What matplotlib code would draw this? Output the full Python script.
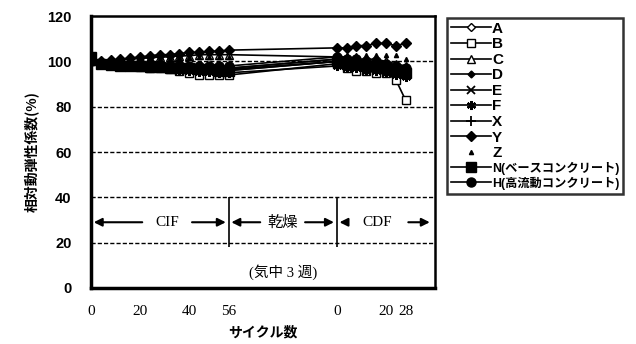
import numpy as np
import matplotlib
matplotlib.use('Agg')
from matplotlib import pyplot as plt

# measurement cycles
cif_cycles = [0, 4, 8, 12, 16, 20, 24, 28, 32, 36, 40, 44, 48, 52, 56]
cdf_cycles = [0, 4, 8, 12, 16, 20, 24, 28]

labels = ['A', 'B', 'C', 'D', 'E', 'F', 'X', 'Y', 'Z',
          'N(ベースコンクリート)', 'H(高流動コンクリート)']

# relative dynamic modulus (%) during CIF
cif_A = [100, 99.5, 99, 99, 98.5, 98.5, 98, 98, 98, 97.5, 97.5, 97, 97, 97, 97]
cif_B = [100, 99, 98.5, 98, 98, 97.5, 97, 97, 96.5, 96, 95, 94, 94, 94, 94]
cif_C = [100, 100, 100.5, 101, 101, 101.5, 101.5, 102, 102, 102.5, 102.5, 103, 103, 103, 103]
cif_D = [100, 99, 99, 98.5, 98.5, 98, 98, 98, 97.5, 97.5, 97, 97, 97, 96.5, 96.5]
cif_E = [100, 99, 98.5, 98.5, 98, 98, 97.5, 97.5, 97, 97, 96.5, 96, 96, 96, 96]
cif_F = [101, 99, 98.5, 98, 98, 97.5, 97, 97, 96.5, 96, 96, 95.5, 95.5, 95, 95]
cif_X = [100, 99.5, 99, 99, 99, 98.5, 98.5, 98, 98, 98, 97.5, 97.5, 97, 97, 97]
cif_Y = [100, 100, 100.5, 101, 101.5, 102, 102.5, 103, 103, 103.5, 104, 104, 104.5, 104.5, 105]
cif_Z = [100, 100, 100.5, 100.5, 101, 101, 101.5, 101.5, 101.5, 102, 102, 102, 102, 102, 102]
cif_N = [102, 99, 98.5, 98, 98, 98, 97.5, 97.5, 97, 97, 97, 96.5, 96.5, 96, 96]
cif_H = [100, 99.5, 99.5, 99, 99, 99, 99, 98.5, 98.5, 98.5, 98, 98, 98, 98, 98]

# relative dynamic modulus (%) during CDF
cdf_A = [101, 100, 99, 99, 98, 98, 97, 97]
cdf_B = [99, 97, 96, 96, 95, 95, 92, 83]
cdf_C = [102, 102, 101, 101, 101, 100, 99, 98]
cdf_D = [100, 99, 99, 98, 98, 97, 96, 96]
cdf_E = [100, 98, 98, 97, 97, 96, 95, 94]
cdf_F = [98, 97, 97, 96, 96, 95, 94, 93]
cdf_X = [101, 99, 99, 98, 98, 97, 96, 95]
cdf_Y = [106, 106, 107, 107, 108, 108, 107, 108]
cdf_Z = [103, 103, 103, 103, 103, 103, 103, 101]
cdf_N = [100, 99, 99, 98, 98, 97, 96, 95]
cdf_H = [102, 101, 101, 100, 100, 99, 98, 97]

cif_all = [cif_A, cif_B, cif_C, cif_D, cif_E, cif_F, cif_X, cif_Y, cif_Z, cif_N, cif_H]
cdf_all = [cdf_A, cdf_B, cdf_C, cdf_D, cdf_E, cdf_F, cdf_X, cdf_Y, cdf_Z, cdf_N, cdf_H]

CDF_OFFSET = 100  # axis position where CDF cycle 0 sits (after drying)

styles = [
    dict(marker='D', ms=4.5, mfc='white'),
    dict(marker='s', ms=5.5, mfc='white'),
    dict(marker='^', ms=5.5, mfc='white'),
    dict(marker='D', ms=3.5),
    dict(marker='x', ms=5.5, mew=1.3),
    dict(marker=(6, 2, 0), ms=6.5, mew=1.6),
    dict(marker='+', ms=6.5, mew=1.3),
    dict(marker='D', ms=5.5),
    dict(marker='^', ms=3, ls='none'),
    dict(marker='s', ms=6.5),
    dict(marker='o', ms=6.5),
]

plt.rcParams['font.family'] = ['Liberation Sans', 'Noto Sans CJK JP']
jp = ['Noto Sans CJK JP']
serif = ['Liberation Serif', 'Noto Sans CJK JP']

fig = plt.figure(figsize=(6.36, 3.44), dpi=100)
ax = fig.add_axes([0.143, 0.163, 0.541, 0.790])

x_all = np.array(cif_cycles + [c + CDF_OFFSET for c in cdf_cycles])
for lab, c1, c2, st in zip(labels, cif_all, cdf_all, styles):
    st = dict(st)
    ls = st.pop('ls', '-')
    ax.plot(x_all, c1 + c2, color='black', lw=1.2, ls=ls, mec='black',
            mfc=st.pop('mfc', 'black'), label=lab, **st)

ax.set_xlim(0, 140)
ax.set_ylim(0, 120)
ax.set_yticks([0, 20, 40, 60, 80, 100, 120])
ax.set_yticklabels(['0', '20', '40', '60', '80', '100', '120'], fontweight='bold', fontsize=10.5)
xt = [0, 20, 40, 56] + [c + CDF_OFFSET for c in (0, 20, 28)]
ax.set_xticks(xt)
ax.set_xticklabels(['0', '20', '40', '56', '0', '20', '28'], family=serif, fontsize=11)
ax.tick_params(axis='y', length=0, pad=14)
ax.tick_params(axis='x', length=0, pad=12)
for y in (20, 40, 60, 80, 100):
    ax.axhline(y, color='black', lw=1.0, ls=(0, (3, 1.5)), zorder=0)

for side in ('left', 'bottom'):
    ax.spines[side].set_linewidth(2.5)
for side in ('top', 'right'):
    ax.spines[side].set_linewidth(1.8)

# period annotations
ay = 29
ax.vlines([56, CDF_OFFSET], 18, 40, color='black', lw=1.2)
arr = dict(arrowstyle='-|>', color='black', lw=1.5, mutation_scale=12)
ax.annotate('', xy=(0, ay), xytext=(22, ay), arrowprops=arr)
ax.annotate('', xy=(56, ay), xytext=(40, ay), arrowprops=arr)
ax.text(31, ay, 'CIF', family=serif, fontsize=11, ha='center', va='center')
ax.annotate('', xy=(56, ay), xytext=(70, ay), arrowprops=arr)
ax.annotate('', xy=(CDF_OFFSET, ay), xytext=(86, ay), arrowprops=arr)
ax.text(78, ay, '乾燥', family=jp, fontsize=11, ha='center', va='center')
ax.annotate('', xy=(CDF_OFFSET, ay), xytext=(CDF_OFFSET + 5, ay), arrowprops=arr)
ax.annotate('', xy=(139, ay), xytext=(128, ay), arrowprops=arr)
ax.text(CDF_OFFSET + 16.5, ay, 'CDF', family=serif, fontsize=11, ha='center', va='center')
ax.text(78, 7, '(気中 3 週)', family=serif, fontsize=10.5, ha='center', va='center')

ax.set_ylabel('相対動弾性係数(%)', family=jp, fontweight='bold', fontsize=10, labelpad=6)
ax.set_xlabel('サイクル数', family=jp, fontweight='bold', fontsize=10, labelpad=6)

leg = fig.legend(loc='upper left', bbox_to_anchor=(447 / 636, 1 - 18 / 344),
                 frameon=True, fancybox=False, edgecolor='black', fontsize=11,
                 labelspacing=0.1, handlelength=2.6, handletextpad=0.1,
                 borderpad=0.25, borderaxespad=0)
leg.get_frame().set_linewidth(1.8)
for t in leg.get_texts():
    t.set_fontweight('bold')
    if len(t.get_text()) > 1:
        t.set_fontsize(8.8)

fig.savefig('out.png', dpi=100)
